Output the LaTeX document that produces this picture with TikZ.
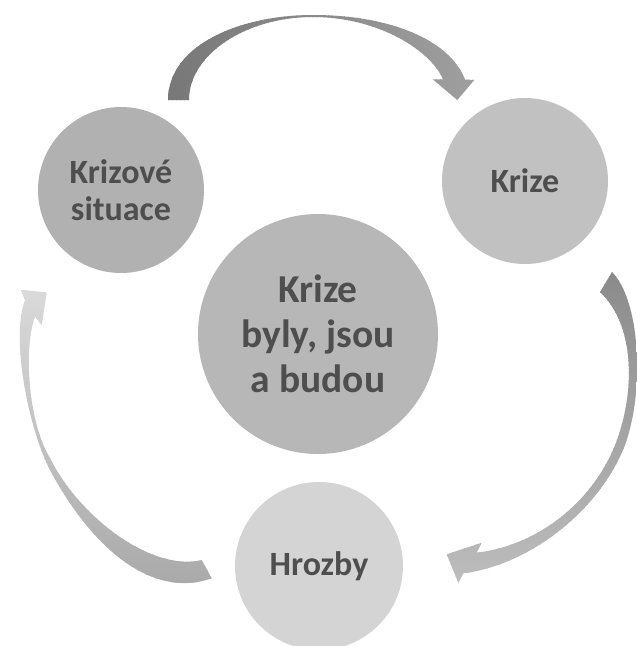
\documentclass[tikz,border=0pt]{standalone}
\usepackage{fontspec}
\setmainfont{Carlito}
\definecolor{txt}{HTML}{4E4E4E}
\definecolor{cA}{HTML}{B1B1B1}
\definecolor{cB}{HTML}{C1C1C1}
\definecolor{cC}{HTML}{B7B7B7}
\definecolor{cD}{HTML}{D4D4D4}
\definecolor{arrA}{HTML}{777777}
\definecolor{arrB}{HTML}{A0A0A0}
\definecolor{arrC}{HTML}{8A8A8A}
\definecolor{arrD}{HTML}{BDBDBD}
\definecolor{arrE}{HTML}{DADADA}
\definecolor{arrF}{HTML}{A9A9A9}
\tikzset{
  bubble/.style={circle, inner sep=0pt, text=txt, align=center,
    font=\bfseries\fontsize{34}{37.5}\selectfont},
  bigbubble/.style={bubble, font=\bfseries\fontsize{39.5}{45}\selectfont}
}
\begin{document}
\begin{tikzpicture}[x=1pt,y=-1pt]
\useasboundingbox (0,0) rectangle (637,646);
\clip (0,0) rectangle (637,646);
% top arrow (horizontal gradient)
\begin{scope}
\clip
  (168,100) .. controls (168,45) and (240,15) .. (313,15)
  .. controls (390,15) and (450,40) .. (465,79.5)
  -- (474.3,80) -- (457.3,100) -- (432.7,79.3) -- (443,79.5)
  .. controls (432,52) and (380,17) .. (313,17)
  .. controls (245,17) and (189,55) .. (189,100) -- cycle;
\foreach \i in {0,...,79} {
  \pgfmathsetmacro\p{100*\i/79}
  \fill[arrB!\p!arrA] (164+4*\i,10) rectangle ++(4.6,95);
}
\end{scope}
% right arrow (vertical gradient)
\begin{scope}
\clip
  (612,272) .. controls (640,300) and (645,390) .. (625,445)
  .. controls (600,510) and (530,565) .. (463.3,573.3)
  -- (458.3,582.7) -- (446.7,554.3) -- (481.7,542.7) -- (476.7,552.7)
  .. controls (540,545) and (595,500) .. (617,440)
  .. controls (635,390) and (635,325) .. (600,292) -- cycle;
\foreach \i in {0,...,79} {
  \pgfmathsetmacro\p{100*\i/79}
  \fill[arrD!\p!arrC] (440,268+4*\i) rectangle ++(200,4.6);
}
\end{scope}
% left arrow (vertical gradient)
\begin{scope}
\clip
  (211.7,578.3) .. controls (150,600) and (90,545) .. (50,470)
  .. controls (30,432) and (10,340) .. (25,300)
  -- (20.7,290) -- (46.7,292.3) -- (41.7,325) -- (35,316.7)
  .. controls (24,345) and (27,420) .. (50,458)
  .. controls (78,515) and (150,572) .. (201.7,560) -- cycle;
\foreach \i in {0,...,75} {
  \pgfmathsetmacro\p{100*\i/75}
  \fill[arrF!\p!arrE] (5,286+4*\i) rectangle ++(215,4.6);
}
\end{scope}
% circles
\node[bubble, fill=cA, minimum size=166pt] (ks) at (121,190) {Krizové\\situace};
\node[bubble, fill=cB, minimum size=166pt] (kr) at (525,181) {Krize};
\node[bigbubble, fill=cC, minimum size=240pt] (mid) at (318,334) {Krize\\byly, jsou\\a budou};
\node[bubble, fill=cD, minimum size=168pt] (hr) at (319,566) {Hrozby};
\end{tikzpicture}
\end{document}
